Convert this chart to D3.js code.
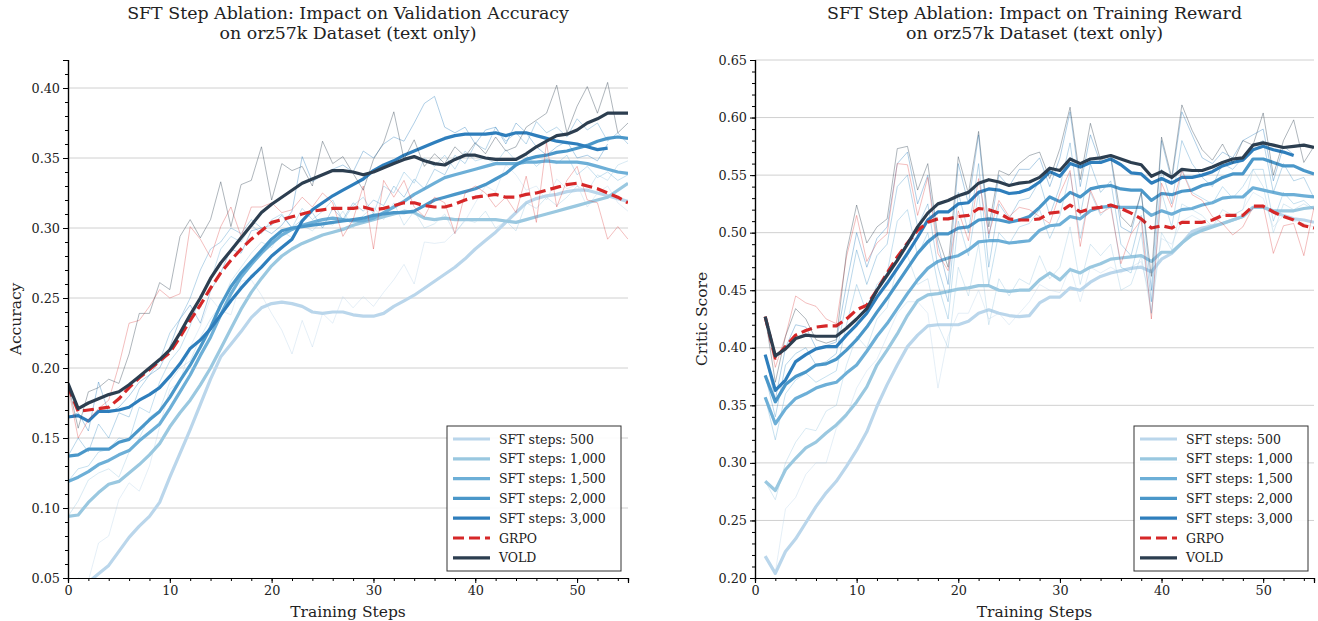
<!DOCTYPE html>
<html>
<head>
<meta charset="utf-8">
<script src="https://cdn.jsdelivr.net/npm/d3@7"></script>
<style>
  body { margin: 0; background: #fff; }
  svg { font-family: "DejaVu Serif", serif; }
</style>
</head>
<body>
<div id="chart"></div>
<script>
// ---- left panel: validation accuracy, steps 0..55 (3,000 run stops at 53) ----
var accSft500 = [0.040,0.043,0.047,0.053,0.059,0.069,0.079,0.087,0.094,0.104,0.122,0.139,0.156,0.174,0.192,0.208,0.217,0.226,0.236,0.243,0.246,0.247,0.246,0.244,0.240,0.239,0.240,0.240,0.238,0.237,0.237,0.239,0.244,0.248,0.252,0.257,0.262,0.267,0.272,0.278,0.285,0.291,0.297,0.304,0.311,0.318,0.321,0.323,0.324,0.326,0.327,0.327,0.325,0.323,0.321,0.319];
var accSft1000 = [0.094,0.095,0.104,0.111,0.117,0.119,0.125,0.131,0.138,0.146,0.158,0.168,0.177,0.188,0.200,0.214,0.228,0.242,0.254,0.264,0.273,0.280,0.285,0.289,0.292,0.295,0.297,0.299,0.302,0.304,0.306,0.308,0.310,0.312,0.311,0.307,0.306,0.307,0.306,0.306,0.306,0.306,0.306,0.305,0.304,0.306,0.308,0.310,0.312,0.314,0.316,0.318,0.320,0.322,0.327,0.332];
var accSft1500 = [0.119,0.122,0.126,0.131,0.134,0.138,0.141,0.148,0.154,0.160,0.171,0.183,0.195,0.209,0.222,0.238,0.253,0.265,0.274,0.282,0.289,0.295,0.299,0.302,0.304,0.306,0.307,0.306,0.305,0.305,0.307,0.311,0.315,0.319,0.324,0.328,0.332,0.336,0.338,0.340,0.342,0.344,0.346,0.346,0.346,0.347,0.347,0.348,0.347,0.347,0.347,0.346,0.344,0.342,0.340,0.339];
var accSft2000 = [0.137,0.138,0.142,0.142,0.142,0.147,0.149,0.156,0.163,0.169,0.179,0.191,0.202,0.215,0.229,0.245,0.258,0.268,0.276,0.284,0.292,0.298,0.300,0.301,0.302,0.303,0.304,0.305,0.306,0.307,0.309,0.310,0.311,0.311,0.312,0.316,0.320,0.322,0.324,0.326,0.328,0.331,0.335,0.339,0.345,0.349,0.351,0.352,0.354,0.355,0.357,0.359,0.362,0.364,0.365,0.364];
var accSft3000 = [0.165,0.166,0.162,0.169,0.169,0.170,0.172,0.177,0.181,0.186,0.194,0.203,0.214,0.220,0.228,0.238,0.248,0.257,0.265,0.272,0.280,0.286,0.292,0.305,0.313,0.318,0.323,0.327,0.331,0.335,0.341,0.345,0.348,0.352,0.355,0.358,0.361,0.364,0.366,0.367,0.367,0.367,0.368,0.366,0.368,0.368,0.366,0.364,0.362,0.361,0.360,0.358,0.356,0.357];
var accGrpo = [0.187,0.169,0.170,0.171,0.172,0.178,0.186,0.193,0.199,0.205,0.211,0.222,0.234,0.245,0.257,0.268,0.277,0.285,0.292,0.298,0.304,0.306,0.308,0.310,0.312,0.313,0.314,0.314,0.314,0.315,0.313,0.314,0.316,0.318,0.318,0.316,0.315,0.315,0.317,0.320,0.322,0.323,0.324,0.322,0.322,0.324,0.325,0.327,0.329,0.331,0.332,0.330,0.328,0.325,0.322,0.318];
var accVold = [0.189,0.171,0.175,0.178,0.181,0.183,0.188,0.194,0.200,0.206,0.213,0.225,0.238,0.250,0.264,0.275,0.284,0.293,0.302,0.311,0.317,0.322,0.327,0.332,0.335,0.338,0.341,0.341,0.340,0.338,0.340,0.343,0.346,0.349,0.351,0.348,0.346,0.345,0.349,0.352,0.352,0.350,0.349,0.349,0.349,0.353,0.358,0.362,0.366,0.367,0.370,0.375,0.378,0.382,0.382,0.382];

var accSft500Raw = [0.045,0.050,0.048,0.075,0.080,0.106,0.118,0.112,0.130,0.158,0.185,0.190,0.215,0.230,0.250,0.241,0.238,0.262,0.263,0.252,0.239,0.227,0.210,0.234,0.215,0.239,0.232,0.251,0.243,0.251,0.244,0.254,0.263,0.274,0.260,0.290,0.289,0.290,0.297,0.305,0.318,0.330,0.326,0.345,0.338,0.327,0.330,0.320,0.335,0.328,0.331,0.315,0.325,0.330,0.318,0.312];
var accSft1000Raw = [0.094,0.105,0.120,0.125,0.128,0.122,0.140,0.150,0.165,0.170,0.190,0.200,0.205,0.222,0.235,0.245,0.262,0.272,0.282,0.290,0.286,0.298,0.293,0.302,0.298,0.305,0.302,0.312,0.300,0.309,0.315,0.306,0.318,0.302,0.312,0.300,0.303,0.310,0.296,0.306,0.304,0.312,0.300,0.305,0.298,0.318,0.314,0.322,0.316,0.322,0.330,0.326,0.338,0.334,0.345,0.348];
var accSft1500Raw = [0.119,0.128,0.130,0.140,0.142,0.150,0.148,0.172,0.168,0.190,0.205,0.214,0.230,0.252,0.262,0.285,0.294,0.290,0.302,0.296,0.306,0.310,0.300,0.314,0.306,0.312,0.320,0.305,0.316,0.322,0.310,0.330,0.325,0.340,0.332,0.350,0.344,0.352,0.342,0.355,0.348,0.350,0.346,0.356,0.348,0.352,0.344,0.350,0.346,0.352,0.338,0.344,0.336,0.340,0.334,0.338];
var accSft2000Raw = [0.137,0.150,0.140,0.160,0.150,0.168,0.165,0.185,0.195,0.205,0.225,0.235,0.250,0.270,0.285,0.290,0.300,0.296,0.306,0.300,0.302,0.309,0.300,0.306,0.311,0.300,0.314,0.306,0.318,0.312,0.320,0.316,0.330,0.322,0.335,0.328,0.342,0.338,0.352,0.346,0.360,0.356,0.372,0.362,0.368,0.360,0.376,0.368,0.372,0.365,0.378,0.370,0.375,0.362,0.368,0.360];
var accSft3000Raw = [0.165,0.168,0.155,0.190,0.168,0.172,0.180,0.190,0.195,0.200,0.215,0.235,0.245,0.232,0.255,0.268,0.285,0.282,0.298,0.300,0.296,0.302,0.312,0.351,0.333,0.338,0.342,0.345,0.340,0.355,0.350,0.360,0.365,0.362,0.375,0.389,0.394,0.372,0.368,0.372,0.360,0.370,0.372,0.360,0.375,0.368,0.358,0.352,0.358,0.362,0.350,0.352,0.348,0.360];
var accGrpoRaw = [0.187,0.150,0.163,0.171,0.177,0.202,0.232,0.234,0.244,0.256,0.250,0.253,0.301,0.292,0.279,0.301,0.315,0.294,0.315,0.315,0.318,0.311,0.313,0.322,0.315,0.325,0.318,0.294,0.306,0.330,0.285,0.334,0.322,0.334,0.315,0.308,0.322,0.318,0.296,0.325,0.330,0.325,0.315,0.322,0.311,0.337,0.304,0.361,0.315,0.334,0.344,0.320,0.318,0.292,0.301,0.292];
var accVoldRaw = [0.189,0.157,0.183,0.186,0.192,0.189,0.210,0.239,0.239,0.261,0.256,0.294,0.306,0.293,0.306,0.333,0.301,0.331,0.334,0.358,0.320,0.346,0.341,0.344,0.330,0.362,0.346,0.351,0.339,0.327,0.349,0.361,0.383,0.349,0.363,0.344,0.353,0.346,0.358,0.351,0.361,0.353,0.365,0.355,0.358,0.372,0.377,0.382,0.402,0.368,0.387,0.401,0.382,0.404,0.368,0.375];

// ---- right panel: critic score, steps 1..55 (3,000 run stops at 53) ----
var rwSft500 = [0.219,0.204,0.223,0.234,0.248,0.262,0.274,0.284,0.297,0.311,0.327,0.349,0.368,0.385,0.401,0.411,0.419,0.420,0.420,0.420,0.423,0.430,0.433,0.430,0.428,0.427,0.428,0.439,0.444,0.444,0.452,0.450,0.457,0.462,0.465,0.467,0.469,0.470,0.466,0.477,0.482,0.491,0.501,0.504,0.506,0.508,0.511,0.514,0.522,0.522,0.518,0.515,0.512,0.511,0.509];
var rwSft1000 = [0.284,0.276,0.294,0.304,0.313,0.318,0.326,0.333,0.342,0.353,0.366,0.385,0.398,0.412,0.428,0.441,0.446,0.447,0.449,0.451,0.452,0.454,0.454,0.450,0.449,0.450,0.450,0.459,0.465,0.459,0.468,0.465,0.470,0.473,0.477,0.478,0.479,0.480,0.475,0.483,0.483,0.491,0.498,0.502,0.505,0.508,0.511,0.514,0.522,0.522,0.519,0.519,0.519,0.521,0.522];
var rwSft1500 = [0.357,0.334,0.347,0.356,0.360,0.365,0.368,0.370,0.378,0.385,0.397,0.410,0.421,0.434,0.447,0.459,0.469,0.475,0.478,0.480,0.485,0.492,0.493,0.493,0.491,0.492,0.493,0.502,0.506,0.507,0.514,0.512,0.519,0.522,0.523,0.522,0.522,0.522,0.515,0.519,0.516,0.520,0.521,0.524,0.526,0.530,0.531,0.531,0.539,0.537,0.535,0.533,0.533,0.532,0.531];
var rwSft2000 = [0.376,0.353,0.368,0.375,0.379,0.385,0.386,0.390,0.398,0.407,0.418,0.431,0.443,0.456,0.469,0.482,0.492,0.499,0.499,0.504,0.505,0.511,0.512,0.511,0.509,0.511,0.514,0.522,0.531,0.527,0.535,0.531,0.538,0.540,0.541,0.538,0.537,0.537,0.528,0.534,0.533,0.536,0.537,0.541,0.543,0.548,0.551,0.551,0.564,0.564,0.561,0.558,0.558,0.554,0.551];
var rwSft3000 = [0.394,0.363,0.372,0.388,0.394,0.399,0.401,0.401,0.411,0.420,0.430,0.444,0.456,0.469,0.482,0.496,0.511,0.518,0.518,0.525,0.526,0.535,0.538,0.537,0.534,0.535,0.538,0.544,0.553,0.549,0.560,0.557,0.561,0.561,0.564,0.559,0.552,0.551,0.543,0.547,0.543,0.548,0.548,0.550,0.553,0.558,0.561,0.563,0.572,0.575,0.572,0.570,0.567];
var rwGrpo = [0.427,0.391,0.401,0.411,0.415,0.418,0.419,0.419,0.425,0.433,0.437,0.450,0.465,0.479,0.491,0.502,0.509,0.512,0.512,0.514,0.515,0.521,0.520,0.517,0.512,0.511,0.511,0.512,0.517,0.518,0.524,0.518,0.521,0.522,0.524,0.521,0.517,0.512,0.504,0.506,0.504,0.509,0.509,0.509,0.511,0.515,0.515,0.515,0.523,0.523,0.518,0.514,0.511,0.506,0.504];
var rwVold = [0.427,0.393,0.399,0.408,0.411,0.410,0.410,0.410,0.417,0.425,0.434,0.450,0.463,0.476,0.490,0.505,0.517,0.525,0.528,0.532,0.535,0.543,0.546,0.544,0.541,0.543,0.544,0.548,0.556,0.554,0.564,0.560,0.564,0.565,0.567,0.564,0.561,0.559,0.549,0.553,0.548,0.555,0.554,0.554,0.557,0.561,0.564,0.565,0.576,0.578,0.576,0.574,0.575,0.576,0.574];

var rwSft500Raw = [0.219,0.205,0.260,0.270,0.290,0.300,0.300,0.330,0.340,0.365,0.380,0.390,0.410,0.430,0.440,0.440,0.430,0.365,0.410,0.430,0.430,0.450,0.425,0.430,0.420,0.430,0.440,0.455,0.450,0.448,0.470,0.440,0.470,0.465,0.470,0.465,0.470,0.475,0.440,0.495,0.490,0.510,0.515,0.510,0.505,0.515,0.515,0.520,0.535,0.530,0.505,0.515,0.510,0.508,0.505];
var rwSft1000Raw = [0.284,0.268,0.300,0.318,0.330,0.328,0.345,0.350,0.385,0.410,0.400,0.425,0.435,0.470,0.480,0.455,0.460,0.420,0.400,0.470,0.445,0.490,0.420,0.460,0.445,0.460,0.455,0.480,0.460,0.470,0.505,0.455,0.490,0.480,0.490,0.450,0.455,0.480,0.430,0.500,0.485,0.525,0.520,0.515,0.505,0.520,0.515,0.520,0.555,0.540,0.500,0.525,0.520,0.525,0.520];
var rwSft1500Raw = [0.357,0.320,0.360,0.372,0.378,0.370,0.375,0.380,0.420,0.455,0.430,0.455,0.465,0.510,0.520,0.480,0.500,0.455,0.425,0.510,0.480,0.535,0.455,0.500,0.490,0.505,0.508,0.520,0.495,0.515,0.552,0.495,0.535,0.515,0.525,0.470,0.465,0.500,0.430,0.535,0.505,0.555,0.535,0.530,0.525,0.540,0.530,0.540,0.555,0.555,0.510,0.535,0.525,0.528,0.520];
var rwSft2000Raw = [0.376,0.340,0.385,0.395,0.400,0.385,0.388,0.395,0.440,0.485,0.455,0.480,0.490,0.540,0.550,0.505,0.525,0.470,0.440,0.535,0.500,0.560,0.470,0.525,0.512,0.528,0.530,0.545,0.515,0.540,0.578,0.515,0.560,0.535,0.545,0.490,0.480,0.515,0.440,0.555,0.525,0.580,0.560,0.548,0.540,0.560,0.555,0.565,0.575,0.580,0.535,0.560,0.545,0.548,0.530];
var rwSft3000Raw = [0.394,0.355,0.400,0.420,0.418,0.400,0.402,0.405,0.455,0.500,0.470,0.495,0.505,0.560,0.570,0.525,0.550,0.490,0.455,0.560,0.525,0.585,0.495,0.550,0.540,0.555,0.555,0.565,0.540,0.565,0.605,0.540,0.585,0.560,0.565,0.505,0.500,0.535,0.450,0.580,0.545,0.605,0.585,0.565,0.560,0.570,0.565,0.580,0.585,0.590,0.545,0.575,0.568];
var rwGrpoRaw = [0.427,0.383,0.410,0.445,0.439,0.436,0.425,0.421,0.479,0.515,0.475,0.491,0.499,0.560,0.559,0.515,0.548,0.482,0.467,0.519,0.493,0.547,0.499,0.528,0.514,0.522,0.520,0.514,0.508,0.534,0.554,0.488,0.537,0.517,0.522,0.473,0.499,0.511,0.425,0.543,0.522,0.554,0.533,0.528,0.514,0.508,0.498,0.505,0.522,0.524,0.482,0.506,0.508,0.480,0.522];
var rwVoldRaw = [0.427,0.370,0.410,0.434,0.425,0.407,0.404,0.407,0.483,0.524,0.491,0.505,0.512,0.573,0.575,0.537,0.560,0.496,0.470,0.566,0.534,0.588,0.505,0.554,0.550,0.560,0.567,0.570,0.547,0.573,0.609,0.546,0.595,0.563,0.567,0.514,0.505,0.535,0.462,0.583,0.548,0.611,0.589,0.572,0.563,0.577,0.560,0.580,0.576,0.604,0.550,0.580,0.598,0.561,0.575];

var seriesNames = ["SFT steps: 500", "SFT steps: 1,000", "SFT steps: 1,500", "SFT steps: 2,000", "SFT steps: 3,000", "GRPO", "VOLD"];
var seriesColors = ["#bad6eb", "#9ac8e0", "#6dafd7", "#4a97c9", "#2e7ebc", "#d62728", "#2c3e50"];

var width = 1318, height = 621;
var svg = d3.select("#chart").append("svg")
    .attr("width", width)
    .attr("height", height);

function drawPanel(cfg) {
  var xScale = d3.scaleLinear().domain([0, 55]).range([cfg.left, cfg.right]);
  var yScale = d3.scaleLinear().domain(cfg.yDomain).range([578, 60]);
  var g = svg.append("g");

  // grid
  g.selectAll(".grid")
    .data(cfg.yTicks.filter(function(t) { return t > cfg.yDomain[0] + 1e-9; }))
    .enter().append("line")
    .attr("x1", cfg.left).attr("x2", cfg.right)
    .attr("y1", function(d) { return yScale(d); })
    .attr("y2", function(d) { return yScale(d); })
    .attr("stroke", "#d0d0d0").attr("stroke-width", 1);

  var clipId = "clip" + cfg.id;
  g.append("clipPath").attr("id", clipId).append("rect")
    .attr("x", cfg.left).attr("y", 60)
    .attr("width", cfg.right - cfg.left).attr("height", 518);

  var plot = g.append("g").attr("clip-path", "url(#" + clipId + ")");

  cfg.smooth.forEach(function(vals, k) {
    var line = d3.line()
      .x(function(d, i) { return xScale(i + cfg.start); })
      .y(function(d) { return yScale(d); });
    plot.append("path")
      .datum(cfg.raw[k])
      .attr("d", line)
      .attr("fill", "none")
      .attr("stroke", seriesColors[k])
      .attr("stroke-width", 1)
      .attr("stroke-opacity", k == 5 ? 0.3 : 0.38);
    plot.append("path")
      .datum(vals)
      .attr("d", line)
      .attr("fill", "none")
      .attr("stroke", seriesColors[k])
      .attr("stroke-width", 3.2)
      .attr("stroke-linejoin", "round")
      .attr("stroke-dasharray", k == 5 ? "11,5" : null);
  });

  // axes
  g.append("g").attr("transform", "translate(0,578)")
    .call(d3.axisBottom(xScale).tickValues([0, 10, 20, 30, 40, 50]).tickSize(5).tickPadding(3));
  g.append("g").attr("transform", "translate(0,578)")
    .call(d3.axisBottom(xScale).tickValues(d3.range(0, 55, 2)).tickSize(3).tickFormat(""));
  g.append("g").attr("transform", "translate(" + cfg.left + ",0)")
    .call(d3.axisLeft(yScale).tickValues(cfg.yTicks).tickSize(5).tickPadding(3).tickFormat(d3.format(".2f")));
  g.append("g").attr("transform", "translate(" + cfg.left + ",0)")
    .call(d3.axisLeft(yScale).tickValues(cfg.yMinor).tickSize(3).tickFormat(""));

  g.selectAll(".domain").attr("stroke", "#000").attr("stroke-width", 1.2);
  g.selectAll(".tick line").attr("stroke", "#000");
  g.selectAll(".tick text").attr("font-family", "DejaVu Serif").attr("font-size", 12.8).attr("fill", "#222");

  // titles and labels
  var cx = (cfg.left + cfg.right) / 2;
  g.append("text").attr("x", cx).attr("y", 19).attr("text-anchor", "middle")
    .attr("font-size", 17.4).attr("fill", "#222").text(cfg.title[0]);
  g.append("text").attr("x", cx).attr("y", 39).attr("text-anchor", "middle")
    .attr("font-size", 17.4).attr("fill", "#222").text(cfg.title[1]);
  g.append("text").attr("x", cx).attr("y", 617).attr("text-anchor", "middle")
    .attr("font-size", 15.5).attr("fill", "#222").text("Training Steps");
  g.append("text").attr("transform", "translate(" + cfg.ylabelX + ",319) rotate(-90)")
    .attr("text-anchor", "middle").attr("font-size", 15.5).attr("fill", "#222").text(cfg.ylabel);

  // legend
  var lg = g.append("g").attr("transform", "translate(" + cfg.legendX + ",426)");
  lg.append("rect").attr("width", 174).attr("height", 145)
    .attr("fill", "#fff").attr("fill-opacity", 0.9)
    .attr("stroke", "#333").attr("stroke-width", 1);
  seriesNames.forEach(function(name, k) {
    var yy = 13 + k * 19.8;
    lg.append("line").attr("x1", 6).attr("x2", 43).attr("y1", yy).attr("y2", yy)
      .attr("stroke", seriesColors[k]).attr("stroke-width", 3.2)
      .attr("stroke-dasharray", k == 5 ? "11,5" : null);
    lg.append("text").attr("x", 52).attr("y", yy + 4.5)
      .attr("font-size", 12.5).attr("fill", "#222").text(name);
  });
}

drawPanel({
  id: "L", left: 68, right: 628, start: 0,
  yDomain: [0.05, 0.42],
  yTicks: [0.05, 0.10, 0.15, 0.20, 0.25, 0.30, 0.35, 0.40],
  yMinor: d3.range(5, 43).map(function(v) { return v / 100; }),
  title: ["SFT Step Ablation: Impact on Validation Accuracy", "on orz57k Dataset (text only)"],
  ylabel: "Accuracy", ylabelX: 21, legendX: 447,
  smooth: [accSft500, accSft1000, accSft1500, accSft2000, accSft3000, accGrpo, accVold],
  raw: [accSft500Raw, accSft1000Raw, accSft1500Raw, accSft2000Raw, accSft3000Raw, accGrpoRaw, accVoldRaw]
});

drawPanel({
  id: "R", left: 755, right: 1314, start: 1,
  yDomain: [0.20, 0.65],
  yTicks: [0.20, 0.25, 0.30, 0.35, 0.40, 0.45, 0.50, 0.55, 0.60, 0.65],
  yMinor: d3.range(20, 66).map(function(v) { return v / 100; }),
  title: ["SFT Step Ablation: Impact on Training Reward", "on orz57k Dataset (text only)"],
  ylabel: "Critic Score", ylabelX: 707, legendX: 1134,
  smooth: [rwSft500, rwSft1000, rwSft1500, rwSft2000, rwSft3000, rwGrpo, rwVold],
  raw: [rwSft500Raw, rwSft1000Raw, rwSft1500Raw, rwSft2000Raw, rwSft3000Raw, rwGrpoRaw, rwVoldRaw]
});
</script>
</body>
</html>
